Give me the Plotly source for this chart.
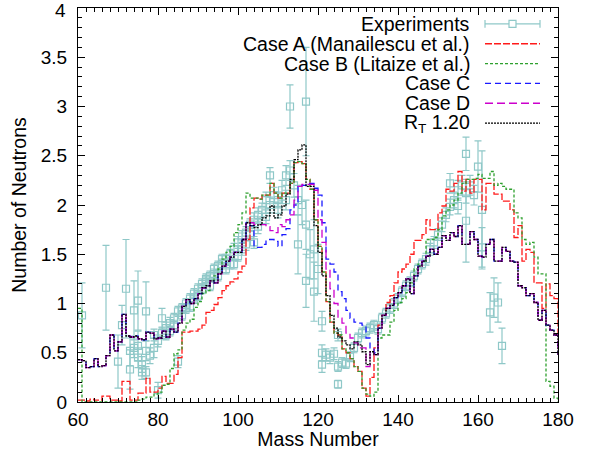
import plotly.graph_objects as go

mass = list(range(60, 181))

case_a = [0.02,0.02,0.01,0.03,0.02,0.02,0.06,0.06,0.02,0.02,
          0.01,0.21,0.21,0.02,0.02,0.09,0.09,0.24,0.10,0.10,
          0.14,0.26,0.19,0.19,0.28,0.45,0.71,0.71,0.72,0.72,
          0.74,0.78,0.91,0.93,0.99,1.06,1.13,1.18,1.22,1.25,
          1.32,1.38,1.65,1.97,2.07,2.06,2.10,2.10,2.22,2.12,
          2.07,2.12,2.12,2.22,2.43,2.44,2.42,2.26,2.16,1.85,
          1.58,1.32,1.02,0.81,0.70,0.68,0.54,0.50,0.44,0.36,
          0.31,0.14,0.06,0.25,0.55,0.78,0.88,1.01,1.08,1.21,
          1.32,1.35,1.40,1.50,1.64,1.64,1.70,1.85,1.75,1.75,
          1.92,1.99,2.16,2.14,2.22,2.34,2.14,2.26,2.12,2.26,
          2.26,1.95,2.22,2.22,2.11,2.11,2.04,2.04,1.95,1.67,
          1.79,1.43,1.55,1.52,1.21,1.21,0.95,1.20,1.08,1.05,
          0.66]

case_b = [0.95,0.00,0.00,0.00,0.00,0.00,0.00,0.00,0.00,0.00,
          0.00,0.00,0.00,0.00,0.00,0.02,0.03,0.05,0.05,0.08,
          0.10,0.17,0.18,0.34,0.49,0.53,0.73,0.80,0.84,0.96,
          1.02,1.10,1.13,1.23,1.28,1.35,1.45,1.52,1.58,1.72,
          1.80,1.92,2.12,2.07,2.07,2.06,2.10,2.10,2.22,2.12,
          2.07,2.12,2.12,2.22,2.43,2.44,2.42,2.26,2.16,1.85,
          1.58,1.32,1.02,0.81,0.70,0.68,0.54,0.50,0.44,0.36,
          0.31,0.14,0.08,0.06,0.10,0.65,0.68,0.68,0.81,0.93,
          1.01,1.05,1.11,1.21,1.35,1.40,1.43,1.65,1.65,1.67,
          1.75,1.89,1.95,2.00,2.05,2.12,2.22,2.26,2.26,2.27,
          2.31,2.27,2.27,2.34,2.20,2.22,2.19,2.16,2.16,1.92,
          1.87,1.65,1.60,1.62,1.47,1.30,1.30,0.21,0.16,0.04,
          0.00]

case_c = [0.43,0.42,0.35,0.36,0.44,0.36,0.37,0.47,0.68,0.52,
          0.61,0.89,0.67,0.66,0.67,0.64,0.63,0.71,0.70,0.64,
          0.65,0.72,0.66,0.74,0.71,0.80,0.97,1.04,1.00,1.05,
          1.10,1.16,1.18,1.23,1.21,1.30,1.38,1.43,1.47,1.52,
          1.52,1.65,1.82,1.79,1.57,1.57,1.60,1.65,1.65,1.63,
          1.58,1.70,1.76,1.95,2.00,2.19,2.20,2.22,2.22,2.17,
          2.10,1.82,1.45,1.40,1.32,1.12,1.05,0.93,0.85,0.81,
          0.80,0.78,0.65,0.55,0.50,0.75,0.88,0.95,0.98,1.06,
          1.11,1.18,1.25,1.10,1.28,1.38,1.43,1.48,1.55,1.50,
          1.57,1.69,1.64,1.72,1.68,1.79,1.60,1.60,1.73,1.65,
          1.48,1.47,1.60,1.65,1.43,1.43,1.57,1.53,1.43,1.42,
          1.18,1.16,1.08,1.10,1.01,0.83,0.93,0.78,0.73,0.68,
          0.48]

case_d = [0.43,0.42,0.35,0.36,0.44,0.36,0.37,0.47,0.68,0.52,
          0.61,0.89,0.67,0.66,0.67,0.64,0.63,0.71,0.70,0.64,
          0.65,0.72,0.66,0.74,0.71,0.80,0.97,1.04,1.00,1.05,
          1.10,1.16,1.18,1.23,1.21,1.30,1.38,1.43,1.47,1.52,
          1.52,1.65,1.82,1.82,1.80,1.80,1.80,1.78,1.74,1.72,
          1.80,1.78,1.85,1.90,2.05,2.19,2.21,2.21,2.21,2.15,
          1.85,1.62,1.35,1.15,1.00,0.85,0.80,0.70,0.65,0.60,
          0.55,0.55,0.36,0.51,0.48,0.75,0.88,0.95,0.98,1.06,
          1.11,1.18,1.25,1.10,1.28,1.38,1.43,1.48,1.55,1.50,
          1.57,1.69,1.64,1.72,1.68,1.79,1.60,1.60,1.73,1.65,
          1.48,1.47,1.60,1.65,1.43,1.43,1.57,1.53,1.43,1.42,
          1.18,1.16,1.08,1.10,1.01,0.83,0.93,0.78,0.73,0.68,
          0.48]

rt_120 = [0.43,0.42,0.35,0.36,0.44,0.36,0.37,0.47,0.68,0.52,
          0.61,0.89,0.67,0.66,0.67,0.64,0.63,0.71,0.70,0.64,
          0.65,0.72,0.66,0.74,0.71,0.80,0.97,1.04,1.00,1.05,
          1.10,1.16,1.18,1.23,1.21,1.30,1.38,1.43,1.47,1.52,
          1.52,1.65,1.82,1.79,1.77,1.80,1.87,1.89,1.99,1.87,
          1.90,1.99,2.11,2.26,2.46,2.56,2.61,2.19,2.19,1.79,
          1.52,1.28,1.08,0.88,0.75,0.66,0.62,0.58,0.54,0.61,
          0.58,0.51,0.38,0.51,0.48,0.75,0.88,0.95,0.98,1.06,
          1.11,1.18,1.25,1.10,1.28,1.38,1.43,1.48,1.55,1.50,
          1.57,1.69,1.64,1.72,1.68,1.79,1.60,1.60,1.73,1.65,
          1.48,1.47,1.60,1.65,1.43,1.43,1.57,1.53,1.43,1.42,
          1.18,1.16,1.08,1.10,1.01,0.83,0.93,0.78,0.73,0.68,
          0.48]

exp_mass = [61,67,70,71,72,73,73,74,75,75,77,
            74,75,76,76,77,77,78,79,79,80,80,81,81,82,82,83,83,84,84,
            85,85,86,86,87,87,88,88,89,89,90,90,91,91,92,92,93,93,94,94,
            95,95,96,96,97,97,98,98,99,99,100,100,101,101,102,102,103,103,
            104,104,105,105,106,107,107,108,108,109,110,110,111,112,112,
            113,113,114,115,115,116,117,117,117,118,119,119,120,121,121,121,
            122,123,124,125,125,125,126,127,128,129,130,131,132,133,134,
            135,136,137,138,139,140,141,142,143,144,145,146,147,148,149,150,
            151,152,153,153,154,155,155,156,157,157,157,158,159,160,161,161,
            163,164,165,166]
exp_val = [0.88,1.16,0.41,0.78,1.15,0.33,0.52,0.93,1.03,0.57,0.92,
           0.55,0.45,0.38,0.30,0.52,0.30,0.47,0.55,0.68,0.62,0.12,0.70,0.85,0.75,0.68,0.80,0.72,0.85,0.78,
           0.92,0.41,0.95,0.88,1.00,0.95,0.97,1.05,1.05,1.10,1.15,1.08,1.20,1.15,1.22,1.25,1.28,1.18,1.30,1.35,
           1.38,1.28,1.40,1.45,1.45,1.35,1.50,1.40,1.55,1.40,1.62,1.48,1.68,1.55,1.72,1.60,1.80,1.70,
           1.85,1.62,1.90,1.78,1.95,2.05,1.88,2.30,2.00,2.10,2.05,1.95,2.15,2.30,2.05,
           3.00,2.35,2.20,1.60,2.05,2.00,3.05,1.80,1.23,1.50,1.55,1.12,1.35,0.82,0.50,0.38,
           0.48,0.45,0.49,0.68,0.36,0.18,0.40,0.39,0.46,0.55,0.65,0.70,0.72,0.75,0.78,
           0.74,0.85,0.90,0.95,1.00,1.05,1.12,1.18,1.22,1.28,1.35,1.40,1.45,1.55,1.62,1.70,
           1.80,1.90,2.22,1.98,2.05,1.99,2.15,2.20,2.52,1.84,2.12,2.20,2.10,2.39,1.95,1.57,
           0.91,1.06,1.01,0.57]
exp_err = [0.33,0.43,0.27,0.20,0.50,0.20,0.15,0.30,0.30,0.15,0.30,
           0.10,0.10,0.08,0.07,0.10,0.06,0.08,0.10,0.06,0.06,0.08,0.06,0.10,0.06,0.05,0.06,0.05,0.05,0.05,
           0.05,0.06,0.05,0.05,0.05,0.05,0.05,0.05,0.05,0.05,0.05,0.05,0.05,0.05,0.05,0.05,0.05,0.05,0.05,0.05,
           0.05,0.05,0.05,0.05,0.05,0.05,0.05,0.05,0.06,0.05,0.06,0.05,0.06,0.06,0.06,0.06,0.06,0.06,
           0.07,0.06,0.07,0.07,0.07,0.08,0.07,0.08,0.08,0.08,0.08,0.08,0.10,0.10,0.10,
           0.22,0.10,0.12,0.30,0.15,0.20,0.55,0.25,0.27,0.25,0.30,0.30,0.25,0.10,0.08,0.08,
           0.06,0.06,0.06,0.06,0.05,0.04,0.05,0.05,0.05,0.05,0.05,0.05,0.05,0.05,0.05,
           0.05,0.05,0.05,0.05,0.05,0.05,0.05,0.05,0.05,0.05,0.05,0.05,0.06,0.06,0.06,0.06,
           0.07,0.07,0.10,0.08,0.08,0.08,0.10,0.10,0.17,0.42,0.10,0.10,0.10,0.26,0.60,0.20,
           0.20,0.20,0.20,0.18]

legend_labels = ["Experiments", "Case A (Manailescu et al.)", "Case B (Litaize et al.)",
                 "Case C", "Case D", "R<sub>T</sub> 1.20"]
x_ticks = [60, 80, 100, 120, 140, 160, 180]
y_ticks = [0, 0.5, 1, 1.5, 2, 2.5, 3, 3.5, 4]
y_ticktext = ["0", "0.5", "1", "1.5", "2", "2.5", "3", "3.5", ""]

EXP_COLOR = "#8fc8c8"
series = [
    (case_a, "#ff1a1a", "7px,2px"),
    (case_b, "#2ea02e", "3px,2px"),
    (case_c, "#1a1aff", "6px,4px"),
    (case_d, "#cc00cc", "8px,4px"),
    (rt_120, "#000000", "2px,1px"),
]

fig = go.Figure()
fig.add_trace(go.Scatter(
    x=exp_mass, y=exp_val, mode="markers",
    marker=dict(symbol="square-open", size=7, color=EXP_COLOR, line=dict(width=1.2, color=EXP_COLOR)),
    error_y=dict(type="data", array=exp_err, color=EXP_COLOR, thickness=1.2, width=3.5),
    showlegend=False))
for vals, col, dash in series:
    fig.add_trace(go.Scatter(x=mass, y=vals, mode="lines",
                             line=dict(color=col, width=1.3, dash=dash, shape="hv"),
                             showlegend=False))

FONT = "Liberation Sans, Arial, sans-serif"
PW, PH = 480, 397
x_text = (472 - 78) / PW
x0s, x1s = (485 - 78) / PW, (540 - 78) / PW
rows = [23, 43, 63, 83, 103, 123]
annotations = []
shapes = []
for i, lab in enumerate(legend_labels):
    yp = (404 - rows[i]) / PH
    annotations.append(dict(x=x_text, y=yp, xref="paper", yref="paper", text=lab,
                            xanchor="right", yanchor="middle", showarrow=False,
                            font=dict(size=19.5, color="black", family=FONT)))
    if i == 0:
        shapes.append(dict(type="line", xref="paper", yref="paper", x0=x0s, x1=x1s, y0=yp, y1=yp,
                           line=dict(color=EXP_COLOR, width=1.2)))
        for xx in (x0s, x1s):
            shapes.append(dict(type="line", xref="paper", yref="paper", x0=xx, x1=xx,
                               y0=yp - 4 / PH, y1=yp + 4 / PH, line=dict(color=EXP_COLOR, width=1.2)))
        xm = (x0s + x1s) / 2
        shapes.append(dict(type="rect", xref="paper", yref="paper",
                           x0=xm - 3.5 / PW, x1=xm + 3.5 / PW, y0=yp - 3.5 / PH, y1=yp + 3.5 / PH,
                           line=dict(color=EXP_COLOR, width=1.2), fillcolor="white"))
    else:
        vals, col, dash = series[i - 1]
        shapes.append(dict(type="line", xref="paper", yref="paper", x0=x0s, x1=x1s, y0=yp, y1=yp,
                           line=dict(color=col, width=1.3, dash=dash)))

# top y tick label (plotly would hide it at the figure edge)
annotations.append(dict(x=(68 - 78) / PW, y=1, xref="paper", yref="paper", text="4",
                        xanchor="right", yanchor="middle", yshift=-2, showarrow=False,
                        font=dict(size=19, color="black", family=FONT)))

axis_common = dict(showline=True, linecolor="black", linewidth=1, mirror="allticks",
                   ticks="inside", ticklen=7, tickcolor="black", showgrid=False, zeroline=False,
                   tickfont=dict(size=19, color="black", family=FONT))
fig.update_layout(
    width=596, height=450,
    margin=dict(l=78, r=38, t=7, b=46),
    paper_bgcolor="white", plot_bgcolor="white",
    font=dict(family=FONT, size=19, color="black"),
    xaxis=dict(range=[60, 180], tickvals=x_ticks,
               minor=dict(ticks="inside", dtick=2, ticklen=4, tickcolor="black"),
               title=dict(text="Mass Number", font=dict(size=19.5), standoff=0), **axis_common),
    yaxis=dict(range=[0, 4], tickvals=y_ticks, ticktext=y_ticktext, ticklabelstandoff=6,
               minor=dict(ticks="inside", dtick=0.1, ticklen=4, tickcolor="black"),
               title=dict(text="Number of Neutrons", font=dict(size=19.5), standoff=8), **axis_common),
    annotations=annotations, shapes=shapes,
)
fig.write_html("out.html")
